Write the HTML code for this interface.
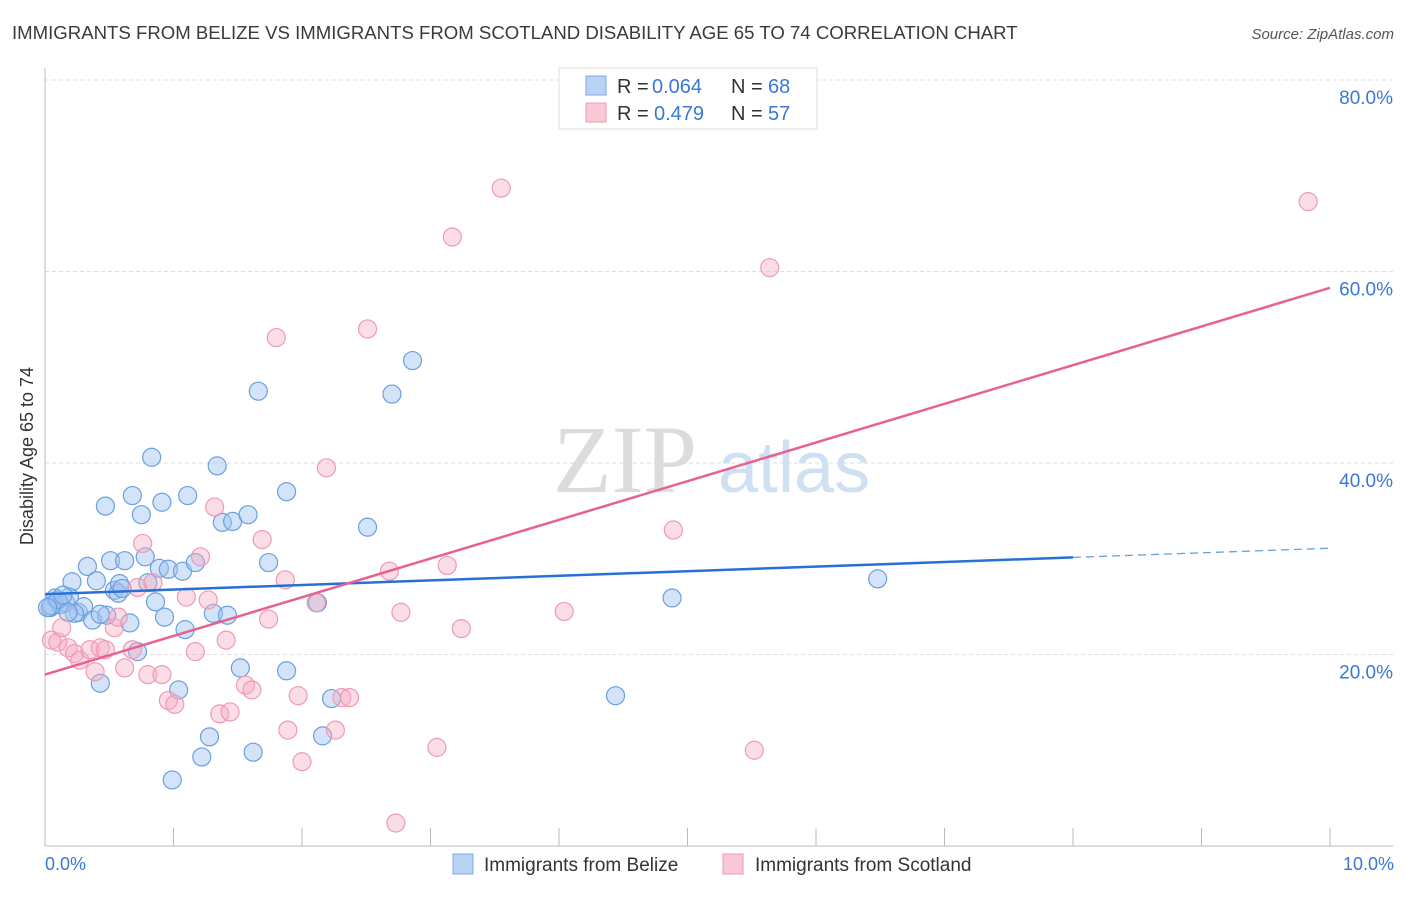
<!DOCTYPE html>
<html><head><meta charset="utf-8"><style>
body{margin:0;background:#fff;font-family:"Liberation Sans",sans-serif;}
</style></head><body>
<svg id="chart" width="1406" height="892" xmlns="http://www.w3.org/2000/svg" font-family="Liberation Sans, sans-serif">
<text x="12" y="39" font-size="18.6" fill="#3a3a3a">IMMIGRANTS FROM BELIZE VS IMMIGRANTS FROM SCOTLAND DISABILITY AGE 65 TO 74 CORRELATION CHART</text>
<text x="1394" y="39" font-size="15" fill="#555" font-style="italic" text-anchor="end">Source: ZipAtlas.com</text>
<text transform="translate(33,456) rotate(-90)" font-size="18" fill="#333" text-anchor="middle">Disability Age 65 to 74</text>
<g id="grid"></g>
<g>
<text x="553" y="492" font-size="96" font-family="Liberation Serif, serif" fill="#dcdcdc">ZIP</text>
<text x="718" y="492" font-size="72" fill="#cfe0f3">atlas</text>
</g>
<g id="points"></g>
<g id="lines"></g>
<g>
<rect x="559" y="68" width="258" height="61" fill="#fff" stroke="#ddd"/>
<rect x="586" y="76" width="20" height="19" fill="#b9d3f5" stroke="#7eaae5"/>
<text x="617" y="93" font-size="20" fill="#333">R =</text>
<text x="652" y="93" font-size="20" fill="#3a78d4">0.064</text>
<text x="731" y="93" font-size="20" fill="#333">N =</text>
<text x="768" y="93" font-size="20" fill="#3a78d4">68</text>
<rect x="586" y="103" width="20" height="19" fill="#f9c9d6" stroke="#ef9ab4"/>
<text x="617" y="120" font-size="20" fill="#333">R =</text>
<text x="654" y="120" font-size="20" fill="#3a78d4">0.479</text>
<text x="731" y="120" font-size="20" fill="#333">N =</text>
<text x="768" y="120" font-size="20" fill="#3a78d4">57</text>
</g>
<g>
<rect x="453" y="854" width="20" height="20" fill="#b9d3f5" stroke="#7eaae5"/>
<text x="484" y="871" font-size="19" fill="#333">Immigrants from Belize</text>
<rect x="723" y="854" width="20" height="20" fill="#f9c9d6" stroke="#ef9ab4"/>
<text x="755" y="871" font-size="19" fill="#333">Immigrants from Scotland</text>
</g>
<text x="45" y="870" font-size="18" fill="#3a78d4">0.0%</text>
<text x="1394" y="870" font-size="18" fill="#3a78d4" text-anchor="end">10.0%</text>
</svg>
<script>
const yTicks=[20,40,60,80];
const yTickLabels=["20.0%","40.0%","60.0%","80.0%"];
const belizeX=[0.04,0.08,0.12,0.16,0.21,0.19,0.26,0.30,0.33,0.37,0.40,0.43,0.47,0.48,0.51,0.54,0.57,0.58,0.62,0.66,0.68,0.72,0.75,0.78,0.80,0.83,0.86,0.89,0.91,0.93,0.96,0.99,1.04,1.07,1.09,1.11,1.17,1.22,1.28,1.31,1.34,1.38,1.42,1.46,1.52,1.58,1.62,1.66,1.74,1.88,1.88,2.12,2.16,2.23,2.51,2.70,2.86,4.44,4.88,6.48,0.05,0.10,0.14,0.23,0.18,0.60,0.02,0.43];
const belizeY=[24.9,25.9,25.2,25.4,27.6,26.0,24.4,25.0,29.2,23.6,27.7,17.0,35.5,24.1,29.8,26.7,26.4,27.4,29.8,23.3,36.6,20.3,34.6,30.2,27.5,40.6,25.5,29.0,35.9,23.9,28.9,6.9,16.3,28.7,22.6,36.6,29.6,9.3,11.4,24.3,39.7,33.8,24.1,33.9,18.6,34.6,9.8,47.5,29.6,18.3,37.0,25.4,11.5,15.4,33.3,47.2,50.7,15.7,25.9,27.9,25.1,25.7,26.2,24.3,24.4,26.9,24.9,24.2];
const scotX=[0.05,0.10,0.13,0.18,0.23,0.27,0.35,0.39,0.43,0.47,0.54,0.57,0.62,0.68,0.72,0.76,0.80,0.84,0.91,0.96,1.01,1.10,1.17,1.21,1.27,1.32,1.36,1.41,1.44,1.56,1.61,1.69,1.74,1.80,1.87,1.89,1.97,2.00,2.11,2.19,2.26,2.31,2.37,2.51,2.68,2.73,2.77,3.05,3.13,3.17,3.24,3.55,4.04,4.89,5.52,5.64,9.83];
const scotY=[21.5,21.3,22.8,20.7,20.1,19.4,20.5,18.2,20.7,20.5,22.8,23.9,18.6,20.5,27.0,31.6,17.9,27.5,17.9,15.2,14.8,26.0,20.3,30.2,25.7,35.4,13.8,21.5,14.0,16.8,16.3,32.0,23.7,53.1,27.8,12.1,15.7,8.8,25.4,39.5,12.1,15.5,15.5,54.0,28.7,2.4,24.4,10.3,29.3,63.6,22.7,68.7,24.5,33.0,10.0,60.4,67.3];
const belizeTrend=[26.3,31.1];
const scotTrend=[17.9,58.3];
const NS="http://www.w3.org/2000/svg";
function sx(v){return 45+v*128.5;}
function sy(v){return 846-v*9.575;}
function mk(t,a,p){const e=document.createElementNS(NS,t);for(const k in a)e.setAttribute(k,a[k]);p.appendChild(e);return e;}
const grid=document.getElementById('grid');
yTicks.forEach((t,i)=>{
 const l=mk('line',{x1:45,x2:1393,y1:sy(t),y2:sy(t),stroke:'#ddd','stroke-dasharray':'4,3'},grid);
 
 
 const tx=mk('text',{x:1393,y:sy(t)+24,'font-size':19,fill:'#3a78d4','text-anchor':'end'},grid);
 tx.textContent=yTickLabels[i];
 
 
});
const ax=mk('line',{x1:45,x2:45,y1:68,y2:846,stroke:'#bbb'},grid);


const bx=mk('line',{x1:45,x2:1393,y1:846,y2:846,stroke:'#bbb'},grid);


for(let i=0;i<=10;i++){
 const t=mk('line',{x1:sx(i),x2:sx(i),y1:828,y2:846,stroke:'#bbb'},grid);
 
 
}
const pts=document.getElementById('points');
belizeX.forEach((x,i)=>{
 const c=mk('circle',{cx:sx(x),cy:sy(belizeY[i]),r:9,fill:'rgba(160,196,240,0.45)',stroke:'#6a9fe0','stroke-width':1.2},pts);
 
 
});
scotX.forEach((x,i)=>{
 const c=mk('circle',{cx:sx(x),cy:sy(scotY[i]),r:9,fill:'rgba(245,170,192,0.4)',stroke:'#ef9ab4','stroke-width':1.2},pts);
 
 
});
const ln=document.getElementById('lines');
const xs=8;
const bmid=belizeTrend[0]+(belizeTrend[1]-belizeTrend[0])*xs/10;
const b1=mk('line',{x1:sx(0),y1:sy(belizeTrend[0]),x2:sx(xs),y2:sy(bmid),stroke:'#2a6fd6','stroke-width':2.5},ln);


const b2=mk('line',{x1:sx(xs),y1:sy(bmid),x2:sx(10),y2:sy(belizeTrend[1]),stroke:'#6a9fe0','stroke-width':1.3,'stroke-dasharray':'8,5'},ln);


const p1=mk('line',{x1:sx(0),y1:sy(scotTrend[0]),x2:sx(10),y2:sy(scotTrend[1]),stroke:'#e8618f','stroke-width':2.5},ln);


</script>
</body></html>
